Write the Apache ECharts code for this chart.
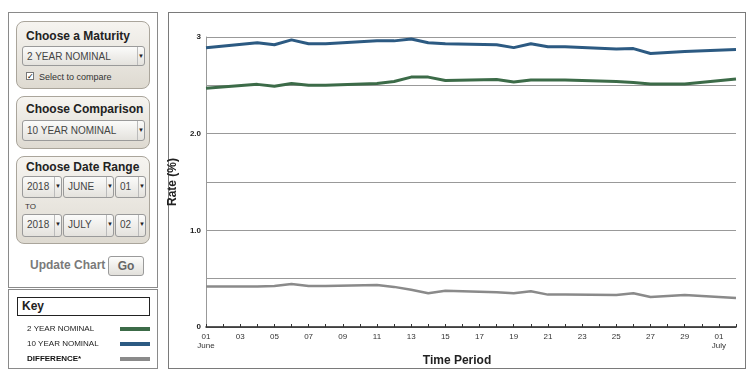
<!DOCTYPE html>
<html><head><meta charset="utf-8">
<script src="https://cdn.jsdelivr.net/npm/echarts@6/dist/echarts.min.js"></script>
<style>
html,body{margin:0;padding:0;background:#fff;width:754px;height:374px;overflow:hidden;font-family:"Liberation Sans",Arial,sans-serif;}
.abs{position:absolute;box-sizing:border-box;}
.panel{border:1px solid #aaa59b;border-radius:8px;background:linear-gradient(#f6f4f0,#dedad1);}
.ptitle{position:absolute;left:9px;font-weight:bold;font-size:12px;color:#222;white-space:nowrap;}
.sel{border:1px solid #9a9a9a;border-radius:3px;background:linear-gradient(#fbfbfa,#e4e2dd);font-size:10px;color:#444;line-height:19px;padding-left:4px;white-space:nowrap;}
.sel .ar{position:absolute;right:0;top:0;width:6px;height:100%;border-left:1px solid #bbb;font-size:6px;text-align:center;color:#222;}
#chart{position:absolute;left:0;top:0;width:754px;height:374px;}
</style></head>
<body>
<div class="abs" style="left:8px;top:12px;width:150px;height:276px;border:1px solid #8a8a8a;"></div>

<div class="abs panel" style="left:16px;top:21px;width:134px;height:68px;">
  <div class="ptitle" style="top:7px;">Choose a Maturity</div>
  <div class="abs sel" style="left:5px;top:24px;width:123px;height:20px;">2 YEAR NOMINAL<div class="ar">▼</div></div>
  <div class="abs" style="left:9px;top:50px;width:8px;height:8px;border:1px solid #777;background:#fff;font-size:8px;line-height:7px;text-align:center;">✓</div>
  <div class="abs" style="left:22px;top:50px;font-size:9px;color:#333;white-space:nowrap;">Select to compare</div>
</div>

<div class="abs panel" style="left:16px;top:96px;width:134px;height:53px;">
  <div class="ptitle" style="top:5px;">Choose Comparison</div>
  <div class="abs sel" style="left:5px;top:23px;width:123px;height:21px;">10 YEAR NOMINAL<div class="ar">▼</div></div>
</div>

<div class="abs panel" style="left:16px;top:156px;width:134px;height:88px;">
  <div class="ptitle" style="top:3px;">Choose Date Range</div>
  <div class="abs sel" style="left:5px;top:19px;width:40px;height:22px;">2018<div class="ar">▼</div></div>
  <div class="abs sel" style="left:46px;top:19px;width:51px;height:22px;">JUNE<div class="ar">▼</div></div>
  <div class="abs sel" style="left:98px;top:19px;width:31px;height:22px;">01<div class="ar">▼</div></div>
  <div class="abs" style="left:8px;top:45px;font-size:8px;color:#333;">TO</div>
  <div class="abs sel" style="left:5px;top:57px;width:40px;height:23px;">2018<div class="ar">▼</div></div>
  <div class="abs sel" style="left:46px;top:57px;width:51px;height:23px;">JULY<div class="ar">▼</div></div>
  <div class="abs sel" style="left:98px;top:57px;width:31px;height:23px;">02<div class="ar">▼</div></div>
</div>

<div class="abs" style="left:30px;top:258px;font-size:12px;font-weight:bold;color:#7a7a7a;white-space:nowrap;">Update Chart</div>
<div class="abs" style="left:108px;top:256px;width:36px;height:20px;border:1px solid #9a9a9a;border-radius:3px;background:linear-gradient(#fdfdfc,#e2e0db);font-size:12px;font-weight:bold;color:#666;text-align:center;line-height:18px;">Go</div>

<div class="abs" style="left:8px;top:289px;width:150px;height:80px;border:1px solid #8a8a8a;"></div>
<div class="abs" style="left:17px;top:297px;width:133px;height:19px;border:1px solid #222;"></div>
<div class="abs" style="left:22px;top:299px;font-size:12px;font-weight:bold;color:#222;">Key</div>

<div class="abs" style="left:168px;top:12px;width:578px;height:357px;border:1px solid #7a7a7a;"></div>

<div id="chart"></div>
<script>
var days = ['01','02','03','04','05','06','07','08','09','10','11','12','13','14','15','16','17','18','19','20','21','22','23','24','25','26','27','28','29','30','01','02'];
var monthMarks = {0:'June', 30:'July'};
var twoYear = [2.47,null,null,2.51,2.49,2.52,2.50,2.50,null,null,2.52,2.54,2.585,2.585,2.55,null,null,2.56,2.535,2.555,2.555,2.555,null,null,2.54,2.53,2.515,2.515,2.515,null,null,2.565];
var tenYear = [2.89,null,null,2.94,2.92,2.97,2.93,2.93,null,null,2.96,2.96,2.98,2.94,2.93,null,null,2.92,2.89,2.93,2.90,2.90,null,null,2.875,2.88,2.83,2.84,2.85,null,null,2.87];
var difference = [0.42,null,null,0.42,0.425,0.445,0.425,0.425,null,null,0.435,0.415,0.385,0.35,0.375,null,null,0.36,0.35,0.37,0.335,0.335,null,null,0.33,0.35,0.31,0.32,0.33,null,null,0.30];
var yLabels = {'0':'0','1':'1.0','2':'2.0','3':'3'};

var chart = echarts.init(document.getElementById('chart'), null, {renderer:'canvas'});
var font = '"Liberation Sans", Arial, sans-serif';
chart.setOption({
  animation:false,
  backgroundColor:'transparent',
  textStyle:{fontFamily:font},
  grid:{left:206,right:18,top:37,bottom:47,containLabel:false},
  legend:{
    orient:'vertical', left:22, top:320, align:'right', itemGap:7,
    itemWidth:30, itemHeight:4, icon:'rect',
    formatter:function(n){ return n==='DIFFERENCE*' ? '{b|'+n+'}' : '{a|'+n+'}'; },
    textStyle:{fontSize:8, color:'#222', fontFamily:font,
      rich:{a:{width:88, align:'left', fontSize:8, color:'#222'},
            b:{width:88, align:'left', fontSize:8, color:'#111', fontWeight:'bold'}}},
    data:['2 YEAR NOMINAL','10 YEAR NOMINAL','DIFFERENCE*'],
    selectedMode:false
  },
  xAxis:{
    type:'category', boundaryGap:false, data:days,
    name:'Time Period', nameLocation:'middle', nameGap:24,
    nameTextStyle:{fontSize:12, fontWeight:'bold', color:'#222', fontFamily:font, padding:[0,28,0,0]},
    axisLine:{lineStyle:{color:'#222', width:1.5}},
    axisTick:{show:true, inside:true, length:3, interval:0, lineStyle:{color:'#333'}},
    axisLabel:{interval:1, fontSize:8, color:'#333', margin:5, lineHeight:9,
      formatter:function(v,i){ return monthMarks[i] ? v+'\n'+monthMarks[i] : v; }},
    splitLine:{show:false}
  },
  yAxis:{
    type:'value', min:0, max:3, interval:0.5,
    name:'Rate (%)', nameLocation:'middle', nameGap:19, nameRotate:90,
    nameTextStyle:{fontSize:12, fontWeight:'bold', color:'#222', fontFamily:font},
    axisLine:{show:true, lineStyle:{color:'#999', width:1}},
    axisTick:{show:false},
    axisLabel:{fontSize:8, fontWeight:'bold', color:'#222', margin:5,
      formatter:function(v){ var k=String(v); return yLabels.hasOwnProperty(k)?yLabels[k]:''; }},
    splitLine:{show:true, lineStyle:{color:'#999', width:1}}
  },
  series:[
    {name:'2 YEAR NOMINAL', type:'line', data:twoYear, connectNulls:true, showSymbol:false, symbol:'none',
      color:'#3c6b48', lineStyle:{color:'#3c6b48', width:3}},
    {name:'10 YEAR NOMINAL', type:'line', data:tenYear, connectNulls:true, showSymbol:false, symbol:'none',
      color:'#2c5a82', lineStyle:{color:'#2c5a82', width:3}},
    {name:'DIFFERENCE*', type:'line', data:difference, connectNulls:true, showSymbol:false, symbol:'none',
      color:'#8a8a8a', lineStyle:{color:'#8a8a8a', width:2.5}}
  ]
});
</script>
</body></html>
